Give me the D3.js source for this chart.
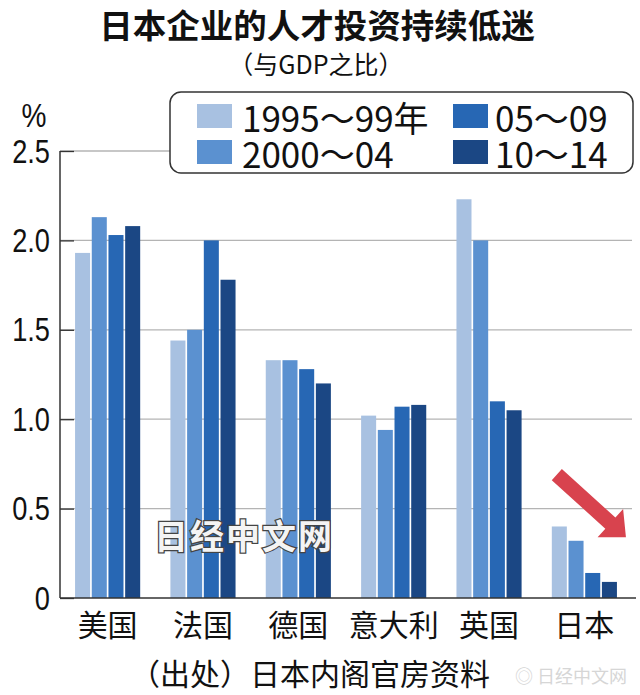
<!DOCTYPE html>
<html><head><meta charset="utf-8">
<script src="https://cdn.jsdelivr.net/npm/d3@7/dist/d3.min.js"></script>
<style>
html,body{margin:0;padding:0;background:#fff;}
svg{display:block;}
</style></head>
<body><svg id="c" width="640" height="695"></svg>
<script>
// ---- data ----
const categories = ["美国","法国","德国","意大利","英国","日本"];
const seriesNames = ["1995～99年","2000～04","05～09","10～14"];
const v1995_99 = [1.93, 1.44, 1.33, 1.02, 2.23, 0.40];
const v2000_04 = [2.13, 1.50, 1.33, 0.94, 2.00, 0.32];
const v2005_09 = [2.03, 2.00, 1.28, 1.07, 1.10, 0.14];
const v2010_14 = [2.08, 1.78, 1.20, 1.08, 1.05, 0.09];
const yTicks = [0, 0.5, 1.0, 1.5, 2.0, 2.5];
const yTickLabels = ["0", "0.5", "1.0", "1.5", "2.0", "2.5"];
const title = "日本企业的人才投资持续低迷";
const subtitle = "（与GDP之比）";
const unitLabel = "%";
const sourceText = "（出处）日本内阁官房资料";
const watermark = "日经中文网";

// ---- styling ----
const colors = ["#a8c1e1", "#5b91d0", "#2767b4", "#1b4784"];
const CJK = "'Noto Sans CJK SC','Noto Sans CJK JP',sans-serif";
const NUM = "'Liberation Sans','Arial',sans-serif";

const svg = d3.select("#c");
const seriesVals = [v1995_99, v2000_04, v2005_09, v2010_14];

const x = d3.scaleBand().domain(categories).range([60, 632]).paddingInner(0.317).paddingOuter(0.158);
const xi = d3.scaleBand().domain(d3.range(seriesNames.length)).range([0, x.bandwidth()]).paddingInner(0.1);
const y = d3.scaleLinear().domain([0, 2.5]).range([598, 151]);

// gridlines
svg.append("g").selectAll("line").data(yTicks.filter(d => d > 0)).join("line")
  .attr("x1", 60).attr("x2", 632).attr("y1", d => y(d)).attr("y2", d => y(d))
  .attr("stroke", "#b4b4b4").attr("stroke-width", 1.3);

// left axis with inner ticks
const yAxis = d3.axisLeft(y).tickValues(yTicks).tickSize(-14).tickFormat("");
const ga = svg.append("g").attr("transform", "translate(60,0)").call(yAxis);
ga.select(".domain").remove();
ga.selectAll(".tick line").attr("stroke", "#333").attr("stroke-width", 1.3);
svg.append("line").attr("x1", 60).attr("x2", 60).attr("y1", y(2.5)).attr("y2", y(0))
  .attr("stroke", "#333").attr("stroke-width", 1.5);

// tick labels (condensed look)
svg.append("g").selectAll("text").data(yTicks).join("text")
  .attr("transform", d => `translate(50,${y(d)}) scale(0.8,1)`)
  .attr("text-anchor", "end").attr("dominant-baseline", "central")
  .attr("font-family", NUM).attr("font-size", 34).attr("fill", "#111")
  .text((d, i) => yTickLabels[i]);
svg.append("text").attr("transform", "translate(34,115) scale(0.85,1)").attr("text-anchor", "middle")
  .attr("dominant-baseline", "central").attr("font-family", NUM).attr("font-size", 33)
  .attr("fill", "#111").text(unitLabel);

// bars
const groups = svg.append("g").selectAll("g").data(categories).join("g")
  .attr("transform", d => `translate(${x(d)},0)`);
groups.selectAll("rect").data((c, ci) => seriesVals.map((s, si) => ({si, v: s[ci]}))).join("rect")
  .attr("x", d => xi(d.si)).attr("width", xi.bandwidth())
  .attr("y", d => y(d.v)).attr("height", d => y(0) - y(d.v))
  .attr("fill", d => colors[d.si]);

// baseline
svg.append("line").attr("x1", 60).attr("x2", 636).attr("y1", y(0)).attr("y2", y(0))
  .attr("stroke", "#333").attr("stroke-width", 1.5);

// category labels
svg.append("g").selectAll("text").data(categories).join("text")
  .attr("x", d => x(d) + x.bandwidth() / 2).attr("y", 623)
  .attr("text-anchor", "middle").attr("dominant-baseline", "central")
  .attr("font-family", CJK).attr("font-size", 30).attr("fill", "#111").text(d => d);

// title
svg.append("text").attr("x", 317).attr("y", 23).attr("text-anchor", "middle")
  .attr("dominant-baseline", "central").attr("font-family", CJK).attr("font-weight", "bold")
  .attr("font-size", 33.5).attr("fill", "#111").text(title);
svg.append("text").attr("x", 316).attr("y", 63).attr("text-anchor", "middle")
  .attr("dominant-baseline", "central").attr("font-family", CJK)
  .attr("font-size", 25).attr("fill", "#111").text(subtitle);

// legend
const lg = svg.append("g");
lg.append("rect").attr("x", 170).attr("y", 92).attr("width", 463).attr("height", 81)
  .attr("rx", 11).attr("fill", "#fff").attr("stroke", "#333").attr("stroke-width", 1.5);
const legPos = [[197, 116], [197, 152], [453, 116], [453, 152]];
const legTextX = [242, 242, 495, 495];
seriesNames.forEach((name, i) => {
  lg.append("rect").attr("x", legPos[i][0]).attr("y", legPos[i][1] - 12)
    .attr("width", 35).attr("height", 24).attr("fill", colors[i]);
  lg.append("text").attr("x", legTextX[i]).attr("y", legPos[i][1])
    .attr("dominant-baseline", "central").attr("font-family", CJK)
    .attr("font-size", 35).attr("fill", "#111").text(name);
});

// watermark
svg.append("text").attr("x", 244).attr("y", 534).attr("text-anchor", "middle")
  .attr("dominant-baseline", "central").attr("font-family", CJK).attr("font-weight", "bold")
  .attr("font-size", 34).attr("fill", "#f4f4f4").attr("stroke", "#444").attr("stroke-width", 2.5)
  .attr("paint-order", "stroke").attr("letter-spacing", 2).text(watermark);

// red arrow (annotation) anchored to Japan group
const jx = x("日本");
const tail = [jx + 5, y(0.69)];
const tip = [jx + x.bandwidth() + 9, y(0.34)];
const ang = Math.atan2(tip[1] - tail[1], tip[0] - tail[0]);
const len = Math.hypot(tip[0] - tail[0], tip[1] - tail[1]);
const hw = 7.5, headLen = 21, headHw = 19;
const pts = [[0, -hw], [len - headLen, -hw], [len - headLen, -headHw], [len, 0],
             [len - headLen, headHw], [len - headLen, hw], [0, hw]]
  .map(([u, v]) => [tail[0] + u * Math.cos(ang) - v * Math.sin(ang), tail[1] + u * Math.sin(ang) + v * Math.cos(ang)]);
svg.append("polygon").attr("points", pts.map(p => p.join(",")).join(" "))
  .attr("fill", "#d8434e");

// source
svg.append("text").attr("x", 130).attr("y", 672).attr("dominant-baseline", "central")
  .attr("font-family", CJK).attr("font-size", 30).attr("fill", "#111").text(sourceText);
svg.append("text").attr("x", 515).attr("y", 675).attr("dominant-baseline", "central")
  .attr("font-family", CJK).attr("font-size", 18).attr("fill", "#d6d6d6").text("◎ " + watermark);
</script></body></html>
